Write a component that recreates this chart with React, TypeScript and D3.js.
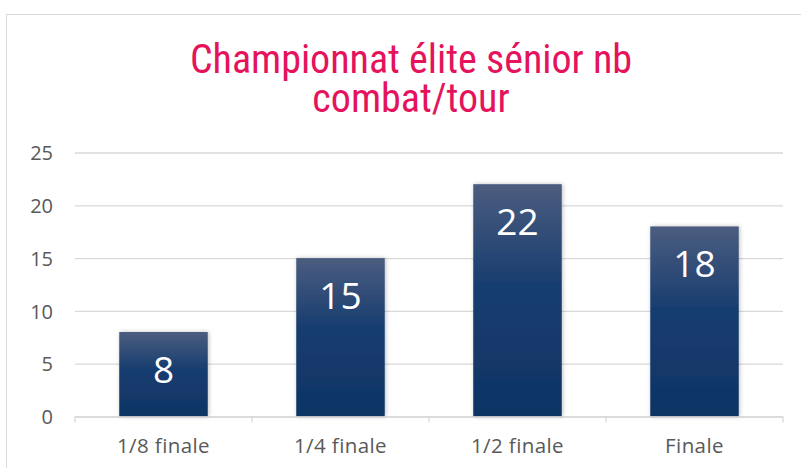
import React, { useRef, useEffect } from "react";
import * as d3 from "d3";

const rounds = ["1/8 finale", "1/4 finale", "1/2 finale", "Finale"];
const fights = [8, 15, 22, 18];
const yTicks = [0, 5, 10, 15, 20, 25];
const titleLines = ["Championnat élite sénior nb", "combat/tour"];

const labelFont = "'Open Sans', 'DejaVu Sans', sans-serif";

const App = () => {
  const ref = useRef<SVGSVGElement>(null);

  const w = 801,
    h = 468,
    margin = { top: 152.5, right: 18, bottom: 51.5, left: 75 };

  useEffect(() => {
    const svg = d3.select(ref.current);
    svg.selectAll("*").remove();

    const x = d3
      .scaleBand()
      .domain(rounds)
      .range([margin.left, w - margin.right])
      .paddingInner(0.5)
      .paddingOuter(0.25);
    const y = d3
      .scaleLinear()
      .domain([0, 25])
      .range([h - margin.bottom, margin.top]);

    const defs = svg.append("defs");
    const grad = defs
      .append("linearGradient")
      .attr("id", "barGrad")
      .attr("x1", 0)
      .attr("y1", 0)
      .attr("x2", 0)
      .attr("y2", 1);
    grad.append("stop").attr("offset", "0%").attr("stop-color", "#4b5d7f");
    grad.append("stop").attr("offset", "45%").attr("stop-color", "#163c6f");
    grad.append("stop").attr("offset", "100%").attr("stop-color", "#0f3464");

    const shadow = defs.append("filter").attr("id", "shadow").attr("x", "-20%").attr("width", "140%");
    shadow
      .append("feDropShadow")
      .attr("dx", 1)
      .attr("dy", 0)
      .attr("stdDeviation", 2)
      .attr("flood-color", "#000")
      .attr("flood-opacity", 0.25);

    // chart frame
    svg
      .append("rect")
      .attr("x", 6.5)
      .attr("y", 14.5)
      .attr("width", 820)
      .attr("height", 480)
      .attr("fill", "#fff")
      .attr("stroke", "#d9d9d9");

    // title
    svg
      .append("text")
      .attr("text-anchor", "middle")
      .attr("font-family", "'Liberation Sans Narrow', 'Roboto Condensed', Roboto, sans-serif")
      .attr("font-size", 40)
      .attr("fill", "#e5135c")
      .selectAll("tspan")
      .data(titleLines)
      .join("tspan")
      .attr("x", 411)
      .attr("y", (d, i) => 72.5 + i * 39)
      .text((d) => d);

    // gridlines + y labels
    const yAxis = (g) =>
      g
        .attr("transform", `translate(${margin.left},0)`)
        .call(
          d3
            .axisLeft(y)
            .tickValues(yTicks)
            .tickSize(-(w - margin.left - margin.right))
            .tickPadding(22)
        )
        .call((g) => g.select(".domain").remove())
        .call((g) => g.selectAll(".tick line").attr("stroke", "#d9d9d9").attr("stroke-width", 1.3))
        .call((g) =>
          g
            .selectAll(".tick text")
            .attr("fill", "#595959")
            .attr("font-size", 20)
            .attr("font-family", labelFont)
            .attr("dy", "0.36em")
        );
    svg.append("g").call(yAxis);

    // bars
    svg
      .append("g")
      .selectAll("rect")
      .data(fights)
      .join("rect")
      .attr("x", (d, i) => x(rounds[i]))
      .attr("y", (d) => y(d))
      .attr("width", x.bandwidth())
      .attr("height", (d) => y(0) - y(d))
      .attr("fill", "url(#barGrad)")
      .attr("filter", "url(#shadow)");

    // x axis
    const step = x.step();
    const bounds = d3.range(rounds.length + 1).map((i) => margin.left + i * step);
    const xg = svg.append("g");
    xg.append("line")
      .attr("x1", margin.left)
      .attr("x2", w - margin.right)
      .attr("y1", y(0) + 0.5)
      .attr("y2", y(0) + 0.5)
      .attr("stroke", "#d9d9d9")
      .attr("stroke-width", 1.3);
    xg.selectAll(".tk")
      .data(bounds)
      .join("line")
      .attr("class", "tk")
      .attr("x1", (d) => d)
      .attr("x2", (d) => d)
      .attr("y1", y(0))
      .attr("y2", y(0) + 6)
      .attr("stroke", "#d9d9d9")
      .attr("stroke-width", 1.3);
    xg.selectAll("text")
      .data(rounds)
      .join("text")
      .attr("x", (d) => x(d) + x.bandwidth() / 2)
      .attr("y", 453)
      .attr("text-anchor", "middle")
      .attr("fill", "#595959")
      .attr("font-size", 20.5)
      .attr("letter-spacing", 0.4)
      .attr("font-family", labelFont)
      .text((d) => d);

    // data labels
    svg
      .append("g")
      .selectAll("text")
      .data(fights)
      .join("text")
      .attr("x", (d, i) => x(rounds[i]) + x.bandwidth() / 2)
      .attr("y", (d) => y(d) + 51)
      .attr("text-anchor", "middle")
      .attr("fill", "#fff")
      .attr("font-size", 37)
      .attr("font-family", labelFont)
      .text((d) => d);
  }, []);

  return (
    <svg
      ref={ref}
      width={w}
      height={h}
      style={{ position: "absolute", left: 0, top: 0, background: "#fff" }}
    ></svg>
  );
};

export default App;
